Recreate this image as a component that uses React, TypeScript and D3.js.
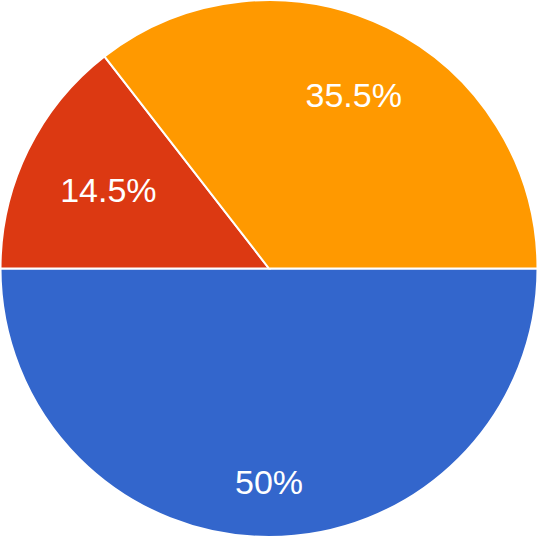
import React, { useEffect, useRef } from "react";
import * as d3 from "d3";

const categories = ["A", "B", "C"];
const values = [50, 14.5, 35.5];
const labels = ["50%", "14.5%", "35.5%"];
const colors = ["#3366cc", "#dc3912", "#ff9900"];

const W = 538;
const H = 538;

export default function App() {
  const ref = useRef<SVGSVGElement | null>(null);

  useEffect(() => {
    const svg = d3.select(ref.current);
    svg.selectAll("*").remove();
    const cx = 269;
    const cy = 268.5;
    const r = 268.5;
    const g = svg.append("g").attr("transform", `translate(${cx},${cy})`);

    const pie = d3
      .pie<number>()
      .sort(null)
      .startAngle(Math.PI / 2)
      .endAngle(Math.PI / 2 + 2 * Math.PI)
      .value((d) => d);
    const arcs = pie(values);
    const arc = d3.arc<d3.PieArcDatum<number>>().innerRadius(0).outerRadius(r);

    g.selectAll("path.slice")
      .data(arcs)
      .join("path")
      .attr("class", "slice")
      .attr("d", arc as any)
      .attr("fill", (_d, i) => colors[i])
      .attr("stroke", "#ffffff")
      .attr("stroke-width", 2)
      .attr("stroke-linejoin", "miter");

    const fontSize = 34;
    const capH = fontSize * 0.7;
    const R = r * 0.848;

    arcs.forEach((a, i) => {
      const t = g
        .append("text")
        .text(labels[i])
        .attr("font-family", "'Liberation Sans', Arial, sans-serif")
        .attr("font-size", fontSize)
        .attr("fill", "#ffffff")
        .attr("text-anchor", "middle");
      const w = (t.node() as SVGTextElement).getComputedTextLength() / 2;
      const h = capH / 2;
      const mid = (a.startAngle + a.endAngle) / 2;
      const ux = Math.sin(mid);
      const uy = -Math.cos(mid);
      const kx = (Math.abs(ux) < 1e-6 ? 1 : Math.sign(ux)) * w;
      const ky = (Math.abs(uy) < 1e-6 ? 1 : Math.sign(uy)) * h;
      const b = ux * kx + uy * ky;
      const c = kx * kx + ky * ky - R * R;
      const dist = -b + Math.sqrt(b * b - c);
      const x = ux * dist;
      const y = uy * dist;
      t.attr("x", x).attr("y", y + h);
    });
  }, []);

  return (
    <svg
      ref={ref}
      width={W}
      height={H}
      style={{ position: "absolute", left: 0, top: 0, background: "#ffffff" }}
      data-categories={categories.join(",")}
    />
  );
}
